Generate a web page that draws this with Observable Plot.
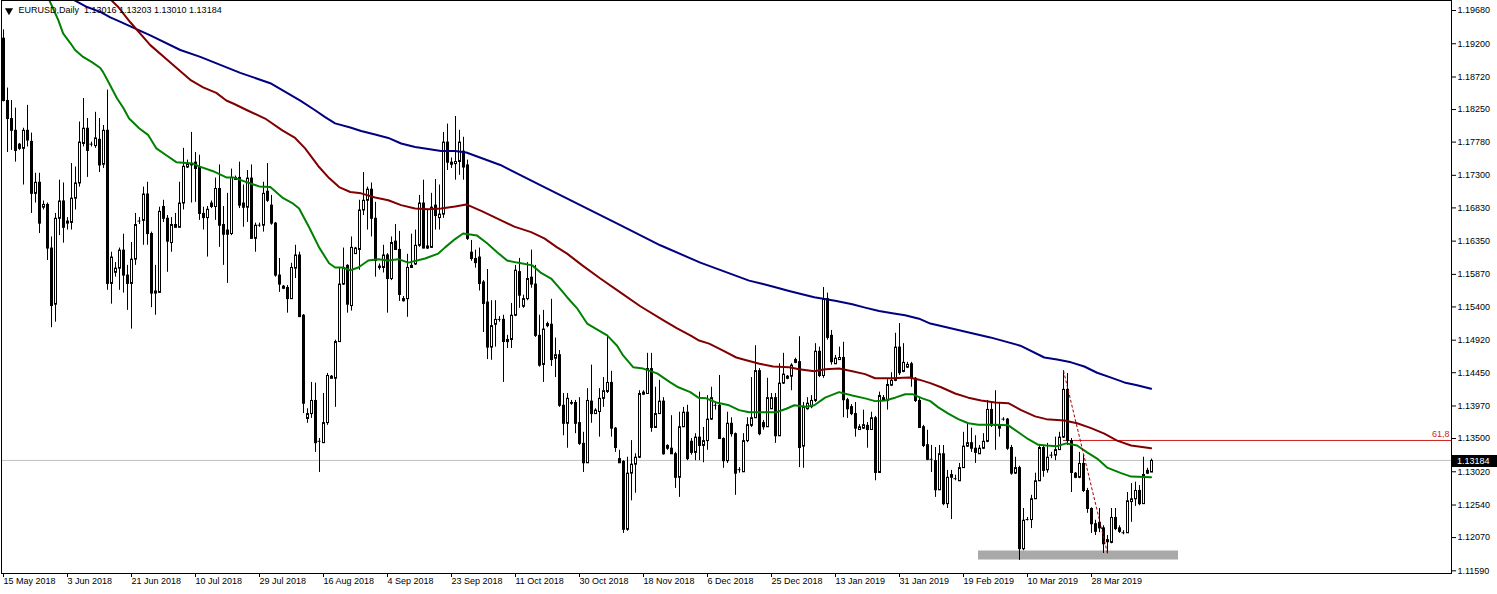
<!DOCTYPE html>
<html><head><meta charset="utf-8">
<script src="https://cdn.jsdelivr.net/npm/d3@7"></script>
<script src="https://cdn.jsdelivr.net/npm/@observablehq/plot@0.6"></script>
<style>
html,body{margin:0;padding:0;background:#fff;}
#chart svg{display:block;}
</style></head><body><div id="chart"></div>
<script>
// ---- data ----
const symbolTitle = "EURUSD,Daily\u00a0\u00a01.13016 1.13203 1.13010 1.13184";

const openPrices = [
1.1928,1.1838,1.1812,1.1795,1.1775,1.1769,1.1795,1.1779,1.1704,1.1720,
1.1684,1.1688,1.1625,1.1544,1.1668,1.1693,1.1661,1.1662,1.1697,1.1719,
1.1776,1.1798,1.1775,1.1773,1.1782,1.1746,1.1795,1.1574,1.1590,1.1596,
1.1622,1.1586,1.1574,1.1609,1.1664,1.1665,1.1703,1.1646,1.1560,1.1561,
1.1685,1.1668,1.1633,1.1659,1.1655,1.1690,1.1742,1.1747,1.1749,1.1742,
1.1675,1.1669,1.1690,1.1685,1.1711,1.1659,1.1651,1.1646,1.1727,1.1727,
1.1690,1.1684,1.1726,1.1639,1.1658,1.1658,1.1707,1.1687,1.1661,1.1586,
1.1570,1.1568,1.1552,1.1596,1.1615,1.1528,1.1379,1.1386,1.1405,1.1346,
1.1344,1.1373,1.1440,1.1437,1.1490,1.1573,1.1600,1.1542,1.1617,1.1623,
1.1680,1.1694,1.1710,1.1668,1.1599,1.1597,1.1615,1.1581,1.1635,1.1623,
1.1552,1.1552,1.1597,1.1602,1.1629,1.1690,1.1628,1.1626,1.1687,1.1669,
1.1674,1.1778,1.1749,1.1747,1.1750,1.1765,1.1745,1.1619,1.1610,1.1612,
1.1576,1.1547,1.1482,1.1515,1.1522,1.1522,1.1493,1.1493,1.1528,1.1591,
1.1541,1.1552,1.1583,1.1573,1.1499,1.1457,1.1516,1.1515,1.1466,1.1471,
1.1398,1.1372,1.1402,1.1402,1.1373,1.1343,1.1315,1.1404,1.1386,1.1389,
1.1408,1.1418,1.1431,1.1365,1.1321,1.1317,1.1219,1.1300,1.1313,1.1323,
1.1414,1.1415,1.1451,1.1366,1.1386,1.1404,1.1340,1.1336,1.1328,1.1294,
1.1367,1.1388,1.1346,1.1330,1.1352,1.1340,1.1347,1.1378,1.1398,1.1398,
1.1350,1.1318,1.1372,1.1357,1.1305,1.1302,1.1347,1.1369,1.1380,1.1448,
1.1373,1.1367,1.1393,1.1409,1.1354,1.1430,1.1437,1.1440,1.1464,1.1461,
1.1339,1.1393,1.1396,1.1405,1.1476,1.1441,1.1552,1.1499,1.1458,1.1464,
1.1467,1.1406,1.1396,1.1386,1.1363,1.1365,1.1369,1.1363,1.1380,1.1301,
1.1405,1.1405,1.1427,1.1434,1.1482,1.1447,1.1453,1.1458,1.1437,1.1405,
1.1367,1.1341,1.1320,1.1318,1.1276,1.1328,1.1256,1.1294,1.1292,1.1289,
1.1308,1.1339,1.1344,1.1336,1.1328,1.1336,1.1346,1.1392,1.1370,1.1369,
1.1378,1.1378,1.1337,1.1300,1.1308,1.1191,1.1233,1.1233,1.1263,1.1289,
1.1337,1.1305,1.1326,1.1326,1.1334,1.1352,1.1421,1.1347,1.1300,1.1294,
1.1314,1.1275,1.1249,1.1227,1.1229,1.1221,1.1201,1.1200,1.1236,1.1221,
1.1214,1.1214,1.1259,1.1263,1.1275,1.1256,1.1304,1.13016];

const highPrices = [
1.1940,1.1856,1.1838,1.1827,1.1776,1.1798,1.1831,1.1791,1.1733,1.1733,
1.1693,1.1690,1.1641,1.1675,1.1723,1.1719,1.1669,1.1747,1.1742,1.1807,
1.1841,1.1812,1.1778,1.1821,1.1812,1.1802,1.1853,1.1619,1.1604,1.1625,
1.1645,1.1600,1.1633,1.1675,1.1669,1.1713,1.1720,1.1648,1.1600,1.1684,
1.1694,1.1672,1.1669,1.1675,1.1720,1.1769,1.1752,1.1792,1.1763,1.1759,
1.1684,1.1685,1.1693,1.1726,1.1745,1.1685,1.1704,1.1739,1.1729,1.1749,
1.1716,1.1737,1.1745,1.1661,1.1661,1.1720,1.1747,1.1701,1.1662,1.1610,
1.1571,1.1571,1.1603,1.1629,1.1619,1.1529,1.1393,1.1431,1.1430,1.1350,
1.1415,1.1444,1.1441,1.1492,1.1597,1.1625,1.1601,1.1641,1.1626,1.1694,
1.1734,1.1713,1.1719,1.1691,1.1602,1.1629,1.1617,1.1641,1.1659,1.1649,
1.1555,1.1616,1.1645,1.1651,1.1701,1.1723,1.1681,1.1704,1.1724,1.1716,
1.1792,1.1804,1.1755,1.1815,1.1795,1.1785,1.1752,1.1636,1.1622,1.1625,
1.1578,1.1594,1.1549,1.1549,1.1526,1.1528,1.1499,1.1545,1.1600,1.1610,
1.1557,1.1604,1.1622,1.1600,1.1528,1.1535,1.1518,1.1551,1.1495,1.1477,
1.1415,1.1415,1.1405,1.1405,1.1409,1.1359,1.1422,1.1456,1.1393,1.1422,
1.1438,1.1499,1.1447,1.1366,1.1333,1.1318,1.1323,1.1347,1.1328,1.1419,
1.1419,1.1473,1.1473,1.1424,1.1434,1.1409,1.1341,1.1383,1.1330,1.1388,
1.1395,1.1398,1.1350,1.1357,1.1417,1.1366,1.1412,1.1424,1.1401,1.1441,
1.1351,1.1388,1.1380,1.1358,1.1308,1.1357,1.1380,1.1438,1.1484,1.1451,
1.1376,1.1437,1.1415,1.1415,1.1458,1.1473,1.1441,1.1458,1.1466,1.1497,
1.1402,1.1409,1.1412,1.1487,1.1482,1.1568,1.1560,1.1506,1.1470,1.1482,
1.1489,1.1408,1.1399,1.1402,1.1370,1.1391,1.1373,1.1388,1.1382,1.1417,
1.1412,1.1435,1.1445,1.1502,1.1516,1.1487,1.1460,1.1460,1.1438,1.1408,
1.1369,1.1362,1.1340,1.1337,1.1340,1.1340,1.1304,1.1304,1.1297,1.1314,
1.1359,1.1372,1.1365,1.1354,1.1340,1.1357,1.1405,1.1401,1.1419,1.1402,
1.1380,1.1379,1.1340,1.1323,1.1310,1.1249,1.1236,1.1268,1.1300,1.1340,
1.1340,1.1343,1.1330,1.1352,1.1359,1.1448,1.1444,1.1350,1.1301,1.1330,
1.1326,1.1278,1.1250,1.1232,1.1249,1.1224,1.1210,1.1249,1.1249,1.1224,
1.1217,1.1272,1.1285,1.1287,1.1282,1.1323,1.1307,1.13203];

const lowPrices = [
1.1836,1.1763,1.1766,1.1749,1.1766,1.1716,1.1771,1.1675,1.1690,1.1646,
1.1680,1.1607,1.1510,1.1518,1.1643,1.1632,1.1651,1.1651,1.1680,1.1713,
1.1771,1.1727,1.1771,1.1769,1.1734,1.1740,1.1564,1.1544,1.1583,1.1564,
1.1560,1.1535,1.1508,1.1600,1.1659,1.1629,1.1629,1.1539,1.1528,1.1560,
1.1662,1.1590,1.1619,1.1654,1.1654,1.1680,1.1740,1.1690,1.1691,1.1665,
1.1651,1.1612,1.1682,1.1665,1.1626,1.1600,1.1574,1.1643,1.1723,1.1682,
1.1655,1.1662,1.1639,1.1619,1.1655,1.1648,1.1691,1.1658,1.1583,1.1561,
1.1565,1.1531,1.1551,1.1581,1.1525,1.1386,1.1372,1.1379,1.1330,1.1301,
1.1343,1.1369,1.1437,1.1395,1.1489,1.1571,1.1531,1.1534,1.1616,1.1593,
1.1672,1.1651,1.1641,1.1583,1.1593,1.1589,1.1531,1.1578,1.1622,1.1548,
1.1547,1.1525,1.1596,1.1600,1.1626,1.1624,1.1623,1.1625,1.1651,1.1651,
1.1668,1.1737,1.1740,1.1723,1.1730,1.1723,1.1636,1.1606,1.1596,1.1563,
1.1503,1.1464,1.1463,1.1482,1.1518,1.1431,1.1480,1.1480,1.1526,1.1538,
1.1538,1.1549,1.1567,1.1496,1.1453,1.1431,1.1510,1.1454,1.1438,1.1395,
1.1354,1.1336,1.1398,1.1357,1.1340,1.1301,1.1314,1.1372,1.1386,1.1352,
1.1395,1.1415,1.1352,1.1330,1.1314,1.1213,1.1216,1.1260,1.1271,1.1321,
1.1412,1.1414,1.1359,1.1365,1.1385,1.1326,1.1333,1.1327,1.1278,1.1265,
1.1366,1.1318,1.1326,1.1318,1.1318,1.1315,1.1333,1.1376,1.1391,1.1349,
1.1307,1.1314,1.1352,1.1268,1.1300,1.1301,1.1344,1.1366,1.1379,1.1354,
1.1362,1.1366,1.1393,1.1343,1.1353,1.1428,1.1435,1.1419,1.1458,1.1308,
1.1307,1.1391,1.1393,1.1402,1.1438,1.1437,1.1492,1.1456,1.1457,1.1463,
1.1380,1.1379,1.1383,1.1352,1.1362,1.1363,1.1336,1.1362,1.1289,1.1300,
1.1404,1.1391,1.1425,1.1432,1.1441,1.1445,1.1451,1.1424,1.1402,1.1365,
1.1337,1.1318,1.1301,1.1265,1.1275,1.1253,1.1249,1.1233,1.1289,1.1288,
1.1307,1.1337,1.1330,1.1314,1.1327,1.1334,1.1344,1.1366,1.1333,1.1352,
1.1375,1.1333,1.1297,1.1298,1.1174,1.1188,1.1231,1.1220,1.1262,1.1288,
1.1294,1.1300,1.1321,1.1318,1.1333,1.1350,1.1340,1.1272,1.1292,1.1292,
1.1272,1.1242,1.1213,1.1210,1.1214,1.1184,1.1184,1.1198,1.1217,1.1213,
1.1211,1.1213,1.1229,1.1252,1.1253,1.1255,1.1298,1.13010];

const closePrices = [
1.1838,1.1812,1.1795,1.1766,1.1769,1.1795,1.1781,1.1704,1.1720,1.1661,
1.1688,1.1625,1.1542,1.1668,1.1693,1.1655,1.1664,1.1697,1.1719,1.1778,
1.1798,1.1766,1.1775,1.1784,1.1745,1.1795,1.1574,1.1612,1.1596,1.1622,
1.1586,1.1574,1.1609,1.1659,1.1664,1.1703,1.1646,1.1560,1.1563,1.1678,
1.1668,1.1635,1.1659,1.1655,1.1690,1.1743,1.1747,1.1745,1.1740,1.1675,
1.1669,1.1681,1.1685,1.1711,1.1658,1.1645,1.1645,1.1727,1.1724,1.1687,
1.1684,1.1726,1.1639,1.1658,1.1658,1.1704,1.1694,1.1661,1.1586,1.1573,
1.1567,1.1552,1.1597,1.1615,1.1526,1.1401,1.1386,1.1405,1.1344,1.1346,
1.1373,1.1441,1.1437,1.1490,1.1573,1.1597,1.1544,1.1626,1.1625,1.1680,
1.1694,1.1710,1.1668,1.1607,1.1597,1.1615,1.1581,1.1633,1.1623,1.1558,
1.1549,1.1597,1.1600,1.1629,1.1690,1.1625,1.1625,1.1684,1.1672,1.1674,
1.1778,1.1749,1.1746,1.1750,1.1778,1.1742,1.1639,1.1610,1.1604,1.1574,
1.1545,1.1482,1.1513,1.1522,1.1522,1.1490,1.1490,1.1528,1.1593,1.1557,
1.1552,1.1581,1.1573,1.1499,1.1456,1.1508,1.1513,1.1464,1.1471,1.1398,
1.1372,1.1408,1.1401,1.1372,1.1343,1.1315,1.1405,1.1386,1.1391,1.1408,
1.1419,1.1431,1.1365,1.1337,1.1315,1.1219,1.1300,1.1313,1.1323,1.1415,
1.1417,1.1451,1.1366,1.1386,1.1404,1.1328,1.1336,1.1328,1.1294,1.1367,
1.1388,1.1321,1.1330,1.1352,1.1340,1.1347,1.1378,1.1409,1.1398,1.1350,
1.1318,1.1372,1.1357,1.1300,1.1305,1.1347,1.1370,1.1380,1.1448,1.1357,
1.1367,1.1409,1.1409,1.1354,1.1430,1.1443,1.1440,1.1456,1.1460,1.1337,
1.1395,1.1401,1.1405,1.1476,1.1441,1.1552,1.1496,1.1461,1.1466,1.1467,
1.1406,1.1393,1.1386,1.1365,1.1367,1.1370,1.1363,1.1380,1.1301,1.1412,
1.1409,1.1428,1.1434,1.1482,1.1445,1.1460,1.1457,1.1437,1.1405,1.1366,
1.1340,1.1320,1.1320,1.1276,1.1328,1.1256,1.1294,1.1298,1.1292,1.1308,
1.1339,1.1344,1.1336,1.1330,1.1336,1.1346,1.1392,1.1369,1.1369,1.1365,
1.1378,1.1336,1.1300,1.1308,1.1191,1.1232,1.1233,1.1263,1.1289,1.1337,
1.1304,1.1323,1.1326,1.1334,1.1352,1.1421,1.1347,1.1301,1.1294,1.1314,
1.1275,1.1249,1.1227,1.1216,1.1221,1.1198,1.1204,1.1236,1.1220,1.1216,
1.1214,1.1260,1.1263,1.1275,1.1256,1.1298,1.1300,1.13184];

// moving averages read as [bar, price] points
const maFast = [[10.9,1.1990],[13.7,1.1954],[14.9,1.1935],[16.7,1.1921],[17.9,1.1911],[19.9,1.1901],[22.2,1.1893],[24.2,1.1885],[24.9,1.1879],[26.2,1.1865],[28.4,1.1841],[29.9,1.1828],[31.4,1.1812],[33.9,1.1798],[36.2,1.1788],[38.2,1.1769],[40.7,1.1759],[43.2,1.1749],[47.4,1.1747],[48.9,1.1743],[52.4,1.1736],[55.7,1.1727],[57.4,1.1727],[60.4,1.1721],[63.9,1.1714],[66.7,1.1713],[69.7,1.1698],[72.2,1.1690],[73.9,1.1682],[76.4,1.1655],[78.9,1.1626],[81.4,1.1603],[82.9,1.1597],[84.7,1.1597],[86.7,1.1593],[88.7,1.1597],[91.2,1.1607],[93.7,1.1609],[96.2,1.1607],[98.7,1.1609],[101.2,1.1604],[105.4,1.1610],[108.7,1.1617],[110.4,1.1626],[112.9,1.1638],[114.9,1.1646],[118.4,1.1643],[120.9,1.1632],[123.4,1.1619],[125.9,1.1607],[128.4,1.1604],[132.2,1.1600],[134.4,1.1589],[136.9,1.1581],[138.9,1.1568],[140.9,1.1554],[143.4,1.1538],[145.9,1.1516],[150.9,1.1499],[153.4,1.1484],[154.9,1.1470],[157.4,1.1453],[159.9,1.1451],[163.4,1.1444],[166.7,1.1431],[168.7,1.1424],[171.7,1.1417],[173.7,1.1409],[175.7,1.1408],[178.2,1.1402],[181.4,1.1398],[183.9,1.1391],[186.4,1.1388],[189.9,1.1388],[193.2,1.1388],[195.7,1.1393],[197.7,1.1398],[200.7,1.1396],[202.7,1.1398],[205.4,1.1409],[208.9,1.1417],[212.2,1.1412],[215.4,1.1408],[217.9,1.1404],[220.4,1.1405],[222.9,1.1409],[225.4,1.1414],[227.2,1.1414],[229.7,1.1408],[231.7,1.1404],[233.7,1.1395],[236.2,1.1386],[238.7,1.1378],[241.2,1.1372],[243.7,1.1370],[247.9,1.1370],[251.2,1.1369],[253.7,1.1359],[256.2,1.1349],[258.7,1.1341],[260.7,1.1340],[263.4,1.1339],[265.7,1.1343],[268.4,1.1340],[270.9,1.1330],[273.4,1.1321],[275.9,1.1308],[279.4,1.1300],[281.9,1.1295],[286.9,1.1294]];

const maMid = [[26.2,1.1987],[28.7,1.1973],[31.7,1.1951],[36.7,1.1918],[41.7,1.1893],[46.9,1.1867],[49.9,1.1857],[53.2,1.1849],[55.7,1.1838],[57.7,1.1833],[60.9,1.1824],[65.4,1.1812],[69.7,1.1795],[72.9,1.1784],[75.4,1.1769],[78.9,1.1742],[81.4,1.1726],[83.9,1.1713],[86.7,1.1706],[89.4,1.1704],[92.9,1.1698],[96.2,1.1694],[99.4,1.1687],[102.9,1.1682],[106.2,1.1681],[109.4,1.1682],[112.9,1.1685],[115.7,1.1688],[119.7,1.1678],[124.4,1.1665],[127.7,1.1656],[131.9,1.1648],[135.2,1.1639],[138.4,1.1626],[140.9,1.1617],[144.7,1.1600],[149.2,1.1581],[154.2,1.1561],[159.2,1.1541],[164.9,1.1521],[168.4,1.1509],[171.7,1.1499],[173.7,1.1492],[176.4,1.1487],[179.9,1.1477],[183.2,1.1467],[185.7,1.1463],[189.0,1.1458],[192.4,1.1454],[196.4,1.1453],[198.9,1.1450],[202.7,1.1447],[205.4,1.1450],[208.9,1.1451],[212.2,1.1447],[215.4,1.1443],[217.9,1.1437],[222.2,1.1437],[226.4,1.1438],[228.9,1.1435],[231.7,1.1430],[234.4,1.1424],[237.9,1.1415],[241.2,1.1409],[244.4,1.1405],[247.9,1.1402],[251.2,1.1401],[254.4,1.1391],[257.9,1.1382],[260.7,1.1378],[265.2,1.1376],[268.4,1.1372],[271.9,1.1365],[275.2,1.1357],[278.4,1.1347],[281.9,1.1340],[286.9,1.1336]];

const maSlow = [[16.7,1.1986],[20.9,1.1973],[24.2,1.1966],[26.7,1.1958],[28.7,1.1953],[36.7,1.1932],[44.2,1.1911],[49.2,1.1901],[59.2,1.1878],[66.7,1.1863],[74.2,1.1838],[77.9,1.1824],[80.4,1.1814],[82.9,1.1805],[86.7,1.1799],[89.4,1.1794],[92.9,1.1789],[96.2,1.1784],[99.4,1.1776],[102.9,1.1771],[106.2,1.1768],[109.4,1.1765],[112.9,1.1765],[115.7,1.1763],[124.2,1.1745],[134.2,1.1716],[144.2,1.1687],[154.2,1.1658],[164.2,1.1629],[174.2,1.1604],[186.4,1.1578],[189.9,1.1573],[193.2,1.1568],[196.4,1.1563],[199.9,1.1558],[202.7,1.1554],[207.9,1.1549],[212.2,1.1544],[215.4,1.1539],[218.9,1.1534],[222.2,1.1531],[225.4,1.1528],[228.9,1.1523],[231.7,1.1516],[239.2,1.1506],[246.7,1.1496],[254.2,1.1484],[260.2,1.1467],[263.4,1.1464],[266.9,1.1460],[270.2,1.1454],[273.4,1.1445],[276.9,1.1438],[280.2,1.1431],[283.4,1.1427],[286.9,1.1422]];

const dateLabels = ["15 May 2018","3 Jun 2018","21 Jun 2018","10 Jul 2018","29 Jul 2018","16 Aug 2018","4 Sep 2018","23 Sep 2018","11 Oct 2018","30 Oct 2018","18 Nov 2018","6 Dec 2018","25 Dec 2018","13 Jan 2019","31 Jan 2019","19 Feb 2019","10 Mar 2019","28 Mar 2019"];
const dateLabelBars = [0,16,32,48,64,80,96,112,128,144,160,176,192,208,224,240,256,272];
const priceTicks = [1.19680,1.19200,1.18720,1.18250,1.17780,1.17300,1.16830,1.16350,1.15870,1.15400,1.14920,1.14450,1.13970,1.13500,1.13020,1.12540,1.12070,1.11590];

const lastPrice = 1.13184;
const fibHighBar = 265, fibHighPrice = 1.1448;
const fibLowBar = 276, fibLowPrice = 1.1184;
const fibLevelPrice = 1.13472, fibLevelText = "61,8";
const zoneBars = [243.75, 293.75];
const zonePrices = [1.11746, 1.11876];

// ---- chart ----
const W = 1497, H = 594;
const xDomain = [-0.5, 362];
const yDomain = [1.115512, 1.198244];
const FONT = '"Liberation Sans", Arial, sans-serif';

const candles = openPrices.map((o, i) => ({i, o, h: highPrices[i], l: lowPrices[i], c: closePrices[i]}));
const dojis = candles.filter(d => d.o === d.c);
const labelOf = new Map(dateLabelBars.map((b, k) => [b, dateLabels[k]]));

const chart = Plot.plot({
  width: W, height: H,
  marginLeft: 1, marginRight: 46, marginTop: 0, marginBottom: 21,
  x: {domain: xDomain},
  y: {domain: yDomain},
  style: {fontFamily: FONT, fontSize: "9px", background: "#fff", color: "#000"},
  marks: [
    Plot.rect([0], {x1: () => zoneBars[0], x2: () => zoneBars[1], y1: () => zonePrices[0], y2: () => zonePrices[1], fill: "#a9a9a9"}),
    Plot.ruleY([lastPrice], {stroke: "#c0c0c0", strokeWidth: 1}),
    Plot.ruleY([fibLevelPrice], {x1: fibHighBar, x2: xDomain[1], stroke: "#cc1f1f", strokeWidth: 1}),
    Plot.ruleX(candles, {x: "i", y1: "l", y2: "h", stroke: "#000", strokeWidth: 1}),
    Plot.rect(candles, {x1: d => d.i - 0.25, x2: d => d.i + 0.25, y1: "o", y2: "c", dx: 0.5, dy: 0.5,
      fill: d => d.c > d.o ? "#fff" : "#000", stroke: "#000", strokeWidth: 1}),
    Plot.ruleY(dojis, {y: "o", x1: d => d.i - 0.375, x2: d => d.i + 0.375, stroke: "#000", strokeWidth: 1}),
    Plot.line(maSlow, {x: d => d[0], y: d => d[1], stroke: "#000080", strokeWidth: 2, clip: true}),
    Plot.line(maMid, {x: d => d[0], y: d => d[1], stroke: "#800000", strokeWidth: 2, clip: true}),
    Plot.line(maFast, {x: d => d[0], y: d => d[1], stroke: "#008000", strokeWidth: 2, clip: true}),
    Plot.link([0], {x1: () => fibHighBar, y1: () => fibHighPrice, x2: () => fibLowBar, y2: () => fibLowPrice,
      stroke: "#a00000", strokeWidth: 1, strokeDasharray: "3,2"}),
    Plot.text([fibLevelText], {y: () => fibLevelPrice, frameAnchor: "right", dx: -2, dy: -6,
      textAnchor: "end", text: d => d, fill: "#cc1f1f", fontSize: 9}),
    Plot.axisY({ticks: priceTicks, anchor: "right", tickSize: 4, tickPadding: 2,
      tickFormat: d => d.toFixed(5), label: null, fontSize: 9}),
    Plot.axisX({ticks: dateLabelBars, anchor: "bottom", tickSize: 4, tickPadding: 0,
      tickFormat: d => labelOf.get(d), textAnchor: "start", label: null, fontSize: 9}),
    Plot.frame({stroke: "#000"}),
    Plot.dot([0], {frameAnchor: "top-left", dx: 7.5, dy: 10, symbol: "triangle", rotate: 180, r: 3, fill: "#000", stroke: null}),
    Plot.text([symbolTitle], {frameAnchor: "top-left", dx: 17, dy: 6, lineAnchor: "top",
      textAnchor: "start", text: d => d, fill: "#000", fontSize: 9})
  ]
});

document.getElementById("chart").append(chart);

// current price label box on the price scale
const svg = d3.select(chart);
const yy = chart.scale("y").apply(lastPrice);
const g = svg.append("g");
g.append("rect").attr("x", 1452).attr("y", Math.round(yy) - 5).attr("width", 45).attr("height", 12).attr("fill", "#000");
g.append("text").attr("x", 1457).attr("y", Math.round(yy) + 1).attr("dy", "0.32em")
  .attr("text-anchor", "start").attr("fill", "#fff").attr("font-family", FONT).attr("font-size", 9)
  .text(lastPrice.toFixed(5));
</script>
</body></html>
